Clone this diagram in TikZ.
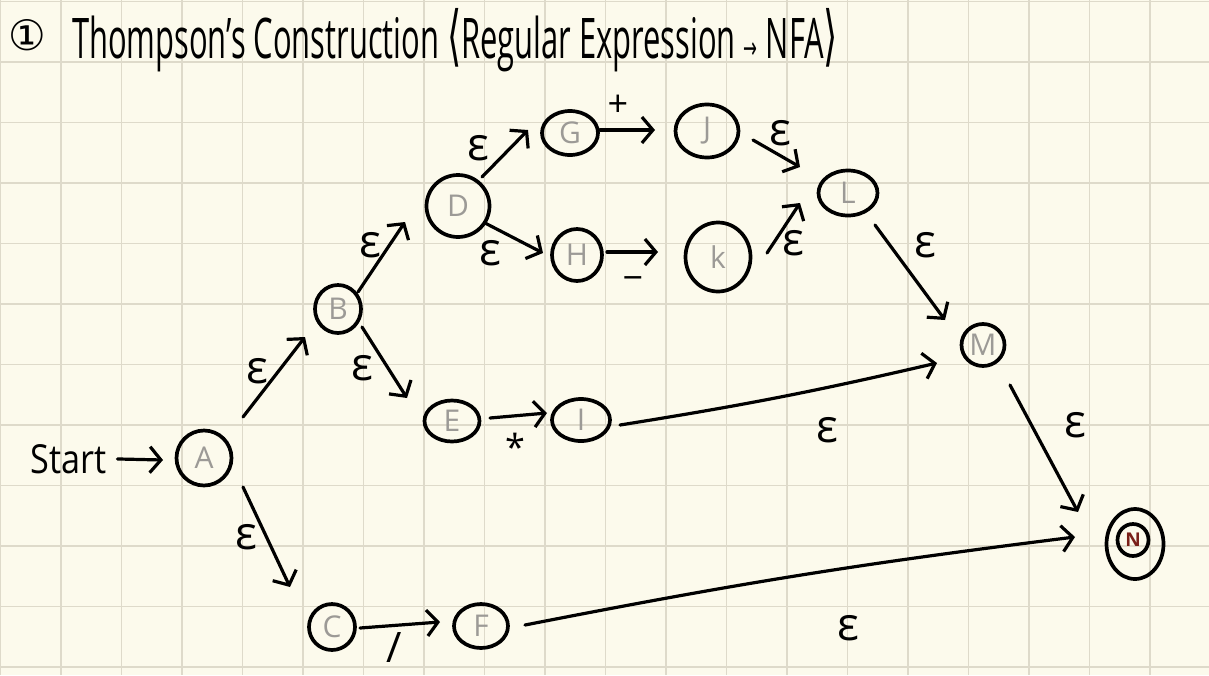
\documentclass[tikz,border=0pt]{standalone}
\usepackage{fontspec}
\setmainfont{Open Sans}
\newfontfamily\symfont{DejaVu Sans}
\usetikzlibrary{arrows.meta,shapes.geometric}
\definecolor{paper}{HTML}{FCFAEC}
\definecolor{gridc}{HTML}{DEDACA}
\definecolor{lab}{HTML}{9C9A96}
\definecolor{nred}{HTML}{7A2019}
\begin{document}
\begin{tikzpicture}[x=1pt,y=-1pt,
  state/.style={ellipse,draw,line width=3.7pt,inner sep=0pt,text=lab,
    font=\fontsize{30}{30}\selectfont},
  edge/.style={line width=3.2pt,line cap=round,-{Straight Barb[length=11pt,width=26pt]}},
  lbl/.style={font=\fontsize{46}{46}\selectfont,inner sep=0pt},
  sym/.style={font=\fontsize{36}{36}\selectfont,inner sep=0pt},
  gridline/.style={gridc,line width=1.4pt}
]
\fill[paper] (0,0) rectangle (1209,675);
\useasboundingbox (0,0) rectangle (1209,675);
\foreach \i in {0,...,19} \draw[gridline] ({0.5+60.5*\i},0) -- ++(0,675);
\foreach \j in {0,...,11} \draw[gridline] (0,{1.5+60.5*\j}) -- ++(1209,0);

% title
\node[inner sep=0pt] (num) at (27,35) {\symfont\fontsize{42}{42}\selectfont ①};
\node[anchor=base west,inner sep=0pt] (title) at (72,58)
  {\resizebox{766pt}{\height}{\fontsize{56}{56}\selectfont Thompson's Construction {\symfont\fontsize{66}{66}\selectfont ⟨}Regular Expression {\symfont\fontsize{30}{30}\selectfont →} NFA{\symfont\fontsize{66}{66}\selectfont ⟩}}};

% start
\node[anchor=base west,inner sep=0pt] (start) at (30,473)
  {\resizebox{76pt}{\height}{\fontsize{40}{40}\selectfont Start}};

% states
\node[state,minimum width=55pt,minimum height=55pt] (A) at (204,458) {A};
\node[state,minimum width=46pt,minimum height=48pt] (B) at (338,309) {B};
\node[state,minimum width=46pt,minimum height=46pt] (C) at (332,627) {C};
\node[state,minimum width=63pt,minimum height=62pt] (D) at (458,206) {D};
\node[state,minimum width=55pt,minimum height=41pt] (E) at (452,421) {E};
\node[state,minimum width=54pt,minimum height=44pt] (F) at (481,626) {F};
\node[state,minimum width=56pt,minimum height=44pt] (G) at (570,133) {G};
\node[state,minimum width=50pt,minimum height=52pt] (H) at (577,255) {H};
\node[state,minimum width=58pt,minimum height=42pt] (I) at (581,420) {I};
\node[state,minimum width=63pt,minimum height=53pt] (J) at (707,131) {J};
\node[state,minimum width=65pt,minimum height=69pt] (K) at (718,257) {k};
\node[state,minimum width=59pt,minimum height=45pt] (L) at (848,193) {L};
\node[state,minimum width=43pt,minimum height=42pt] (M) at (983,345) {M};
\node[state,minimum width=57pt,minimum height=70pt] (N) at (1135,544) {};
\node[state,minimum width=31pt,minimum height=32pt,text=nred,
  font=\fontsize{19}{19}\selectfont\bfseries] (Nin) at (1133,540) {N};

% edges
\draw[edge,shorten <=11pt] (start.east) -- ([shift={(-41,2)}]A.center);
\draw[edge] ([shift={(39,-41)}]A.center) -- ([shift={(-33,28)}]B.center);
\draw[edge] ([shift={(39,29)}]A.center) -- ([shift={(-42,-40)}]C.center);
\draw[edge] ([shift={(20,-17)}]B.center) -- ([shift={(-53,16)}]D.center);
\draw[edge] ([shift={(24,18)}]B.center) -- ([shift={(-45,-23)}]E.center);
\draw[edge] ([shift={(24,-29)}]D.center) -- ([shift={(-42,-3)}]G.center);
\draw[edge] ([shift={(27,17)}]D.center) -- ([shift={(-34,-2)}]H.center);
\draw[edge] ([shift={(30,-3)}]G.center) -- ([shift={(-52,-1)}]J.center);
\draw[edge] ([shift={(30,-3)}]H.center) -- ([shift={(-60,-5)}]K.center);
\draw[edge] ([shift={(46,9)}]J.center) -- ([shift={(-48,-26)}]L.center);
\draw[edge] ([shift={(49,-4)}]K.center) -- ([shift={(-48,10)}]L.center);
\draw[edge] ([shift={(27,32)}]L.center) -- ([shift={(-38,-25)}]M.center);
\draw[edge] ([shift={(38,-3)}]E.center) -- ([shift={(-34,-7)}]I.center);
\draw[edge] ([shift={(39,5)}]I.center) to[bend right=2] ([shift={(-46,18)}]M.center);
\draw[edge] ([shift={(27,40)}]M.center) -- ([shift={(-57,-32)}]N.center);
\draw[edge] ([shift={(28,1)}]C.center) -- ([shift={(-41,-4)}]F.center);
\draw[edge] ([shift={(44,-1)}]F.center) to[bend left=2] ([shift={(-60,-7)}]N.center);

% labels
\node[lbl] (eAB) at (257,371) {ε};
\node[lbl] (eAC) at (246,537) {ε};
\node[lbl] (eBD) at (370,245) {ε};
\node[lbl] (eBE) at (362,368) {ε};
\node[lbl] (eDG) at (478,148) {ε};
\node[lbl] (eDH) at (490,253) {ε};
\node[sym] (plus) at (618,106) {+};
\node[sym] (minus) at (633,284) {−};
\node[lbl] (eJL) at (780,133) {ε};
\node[lbl] (eKL) at (793,243) {ε};
\node[lbl] (eLM) at (925,245) {ε};
\node[sym] (star) at (515,447) {*};
\node[lbl] (eIM) at (827,430) {ε};
\node[lbl] (eMN) at (1075,425) {ε};
\node[lbl] (eFN) at (848,628) {ε};
\node[sym,font=\fontsize{42}{42}\selectfont] (slash) at (394,647) {/};
\end{tikzpicture}
\end{document}
